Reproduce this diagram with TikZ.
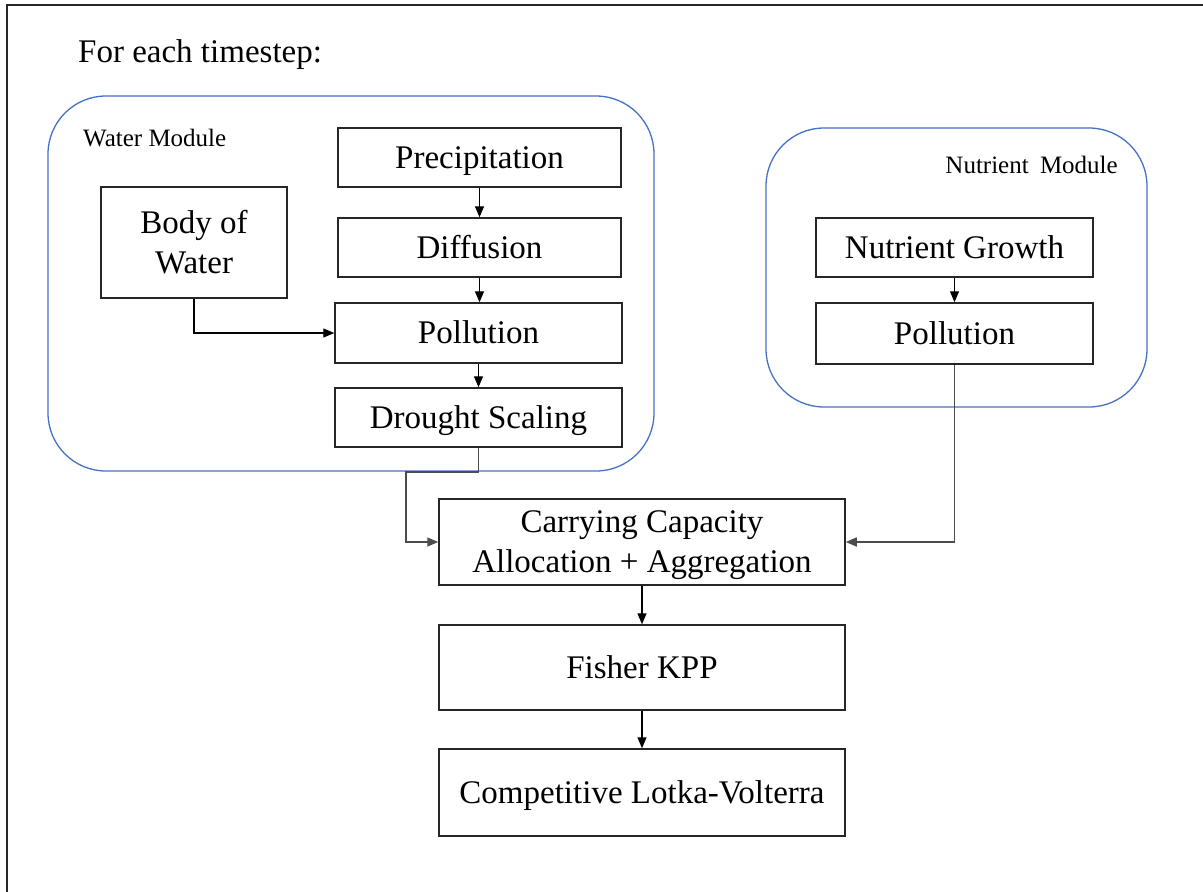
\documentclass[tikz,border=0pt]{standalone}
\usepackage{fontspec}
\setmainfont{Liberation Serif}
\usetikzlibrary{arrows.meta}
\definecolor{modblue}{HTML}{4472C4}
\newcommand{\bigsz}{\fontsize{33}{40}\selectfont}
\newcommand{\smallsz}{\fontsize{25}{30}\selectfont}
\newcommand{\twolines}[2]{\raisebox{0pt}[21.8pt][40pt]{\begin{tabular}[t]{@{}c@{}}#1\\#2\end{tabular}}}
\tikzset{
  stepbox/.style={draw=black!85, line width=1.5pt, inner sep=0pt, font=\bigsz, text height=21.8pt, text depth=0pt},
  twobox/.style={draw=black!85, line width=1.5pt, inner sep=0pt, font=\bigsz},
  module/.style={draw=modblue, line width=1.3pt, rounded corners=58pt},
  arr/.style={-{Triangle[length=11pt,width=9pt]}, line width=1.3pt, black},
  grayarr/.style={arr, draw=black!70, line width=1.5pt},
  plain/.style={inner sep=0pt}
}
\begin{document}
\begin{tikzpicture}[x=1pt,y=-1pt]
\useasboundingbox (0,0) rectangle (1203,892);
% frame
\draw[line width=1.5pt, black!85] (7,892) -- (7,5) -- (1203,5);
% title
\node[plain, anchor=base west, font=\bigsz] (title) at (78,62) {For each timestep:};
% modules
\draw[module] (48,96) rectangle (654,471);
\draw[module] (766,128) rectangle (1147,407);
\node[plain, anchor=base west, font=\smallsz] (wmod) at (83,146) {Water Module};
\node[plain, anchor=base east, font=\smallsz] (nmod) at (1118,173) {Nutrient\hspace{0.45em}Module};
% water module boxes
\node[stepbox, minimum width=283pt, minimum height=59pt] (prec) at (479.5,157.5) {Precipitation};
\node[stepbox, minimum width=283pt, minimum height=59pt] (diff) at (479.5,247.5) {Diffusion};
\node[stepbox, minimum width=287pt, minimum height=60pt] (polw) at (478.5,333) {Pollution};
\node[stepbox, minimum width=287pt, minimum height=59pt] (drought) at (478.5,417.5) {Drought Scaling};
\node[twobox, minimum width=186pt, minimum height=111pt] (body) at (194,242.5) {\twolines{Body of}{Water}};
% nutrient module boxes
\node[stepbox, minimum width=277pt, minimum height=59pt] (ng) at (954.5,247.5) {Nutrient Growth};
\node[stepbox, minimum width=277pt, minimum height=61pt] (np) at (954.5,333.5) {Pollution};
% lower chain
\node[twobox, minimum width=406pt, minimum height=86pt] (cc) at (642,542) {\twolines{Carrying Capacity}{Allocation + Aggregation}};
\node[stepbox, minimum width=406pt, minimum height=85pt] (fk) at (642,667.5) {Fisher KPP};
\node[stepbox, minimum width=406pt, minimum height=87pt] (clv) at (642,792.5) {Competitive Lotka-Volterra};
% connectors
\draw[arr] (prec.south) -- (prec.south |- diff.north);
\draw[arr] (diff.south) -- (diff.south |- polw.north);
\draw[arr] (polw.south) -- (polw.south |- drought.north);
\draw[arr] (body.south) |- (polw.west);
\draw[arr] (ng.south) -- (ng.south |- np.north);
\coordinate (j1) at (406,472);
\draw[grayarr] (drought.south) |- (j1) |- (cc.west);
\draw[grayarr] (np.south) |- (cc.east);
\draw[arr] (cc.south) -- (fk.north);
\draw[arr] (fk.south) -- (clv.north);
\end{tikzpicture}
\end{document}
